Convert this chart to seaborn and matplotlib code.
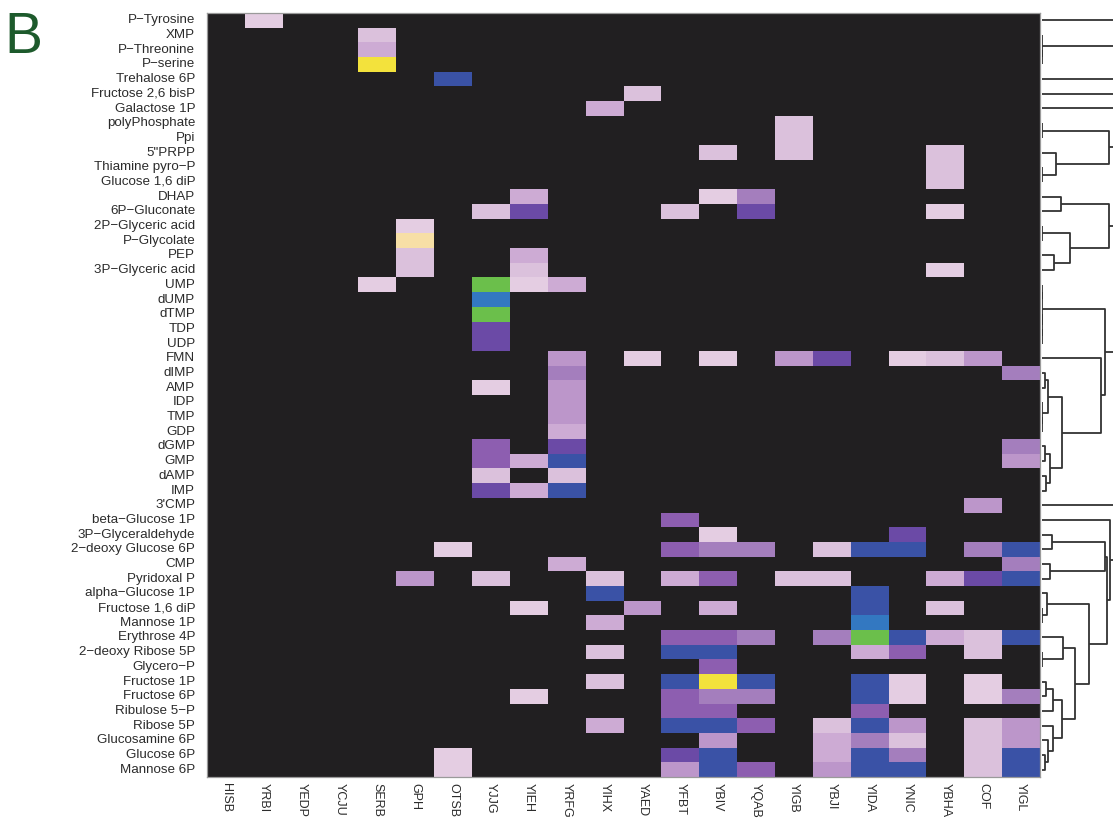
import numpy as np
import pandas as pd
import seaborn as sns
import matplotlib.pyplot as plt
from matplotlib.colors import ListedColormap

plt.rcParams['font.family'] = ['Liberation Sans', 'DejaVu Sans']

metabolites = [
    "P-Tyrosine", "XMP", "P-Threonine", "P-serine", "Trehalose 6P",
    "Fructose 2,6 bisP", "Galactose 1P", "polyPhosphate", "Ppi", '5"PRPP',
    "Thiamine pyro-P", "Glucose 1,6 diP", "DHAP", "6P-Gluconate",
    "2P-Glyceric acid", "P-Glycolate", "PEP", "3P-Glyceric acid", "UMP",
    "dUMP", "dTMP", "TDP", "UDP", "FMN", "dIMP", "AMP", "IDP", "TMP", "GDP",
    "dGMP", "GMP", "dAMP", "IMP", "3'CMP", "beta-Glucose 1P",
    "3P-Glyceraldehyde", "2-deoxy Glucose 6P", "CMP", "Pyridoxal P",
    "alpha-Glucose 1P", "Fructose 1,6 diP", "Mannose 1P", "Erythrose 4P",
    "2-deoxy Ribose 5P", "Glycero-P", "Fructose 1P", "Fructose 6P",
    "Ribulose 5-P", "Ribose 5P", "Glucosamine 6P", "Glucose 6P", "Mannose 6P",
]
metabolites = [m.replace("-", "\u2212") for m in metabolites]

enzymes = ["HISB", "YRBI", "YEDP", "YCJU", "SERB", "GPH", "OTSB", "YJJG",
           "YIEH", "YRFG", "YIHX", "YAED", "YFBT", "YBIV", "YQAB", "YIGB",
           "YBJI", "YIDA", "YNIC", "YBHA", "COF", "YIGL"]

# activity level per metabolite (rows) and enzyme (columns), 0 = none
activity = [
    [0, 1, 0, 0, 0, 0, 0, 0, 0, 0, 0, 0, 0, 0, 0, 0, 0, 0, 0, 0, 0, 0],
    [0, 0, 0, 0, 2, 0, 0, 0, 0, 0, 0, 0, 0, 0, 0, 0, 0, 0, 0, 0, 0, 0],
    [0, 0, 0, 0, 3, 0, 0, 0, 0, 0, 0, 0, 0, 0, 0, 0, 0, 0, 0, 0, 0, 0],
    [0, 0, 0, 0, 12, 0, 0, 0, 0, 0, 0, 0, 0, 0, 0, 0, 0, 0, 0, 0, 0, 0],
    [0, 0, 0, 0, 0, 0, 8, 0, 0, 0, 0, 0, 0, 0, 0, 0, 0, 0, 0, 0, 0, 0],
    [0, 0, 0, 0, 0, 0, 0, 0, 0, 0, 0, 2, 0, 0, 0, 0, 0, 0, 0, 0, 0, 0],
    [0, 0, 0, 0, 0, 0, 0, 0, 0, 0, 3, 0, 0, 0, 0, 0, 0, 0, 0, 0, 0, 0],
    [0, 0, 0, 0, 0, 0, 0, 0, 0, 0, 0, 0, 0, 0, 0, 2, 0, 0, 0, 0, 0, 0],
    [0, 0, 0, 0, 0, 0, 0, 0, 0, 0, 0, 0, 0, 0, 0, 2, 0, 0, 0, 0, 0, 0],
    [0, 0, 0, 0, 0, 0, 0, 0, 0, 0, 0, 0, 0, 2, 0, 2, 0, 0, 0, 2, 0, 0],
    [0, 0, 0, 0, 0, 0, 0, 0, 0, 0, 0, 0, 0, 0, 0, 0, 0, 0, 0, 2, 0, 0],
    [0, 0, 0, 0, 0, 0, 0, 0, 0, 0, 0, 0, 0, 0, 0, 0, 0, 0, 0, 2, 0, 0],
    [0, 0, 0, 0, 0, 0, 0, 0, 3, 0, 0, 0, 0, 1, 5, 0, 0, 0, 0, 0, 0, 0],
    [0, 0, 0, 0, 0, 0, 0, 2, 7, 0, 0, 0, 2, 0, 7, 0, 0, 0, 0, 1, 0, 0],
    [0, 0, 0, 0, 0, 1, 0, 0, 0, 0, 0, 0, 0, 0, 0, 0, 0, 0, 0, 0, 0, 0],
    [0, 0, 0, 0, 0, 11, 0, 0, 0, 0, 0, 0, 0, 0, 0, 0, 0, 0, 0, 0, 0, 0],
    [0, 0, 0, 0, 0, 2, 0, 0, 3, 0, 0, 0, 0, 0, 0, 0, 0, 0, 0, 0, 0, 0],
    [0, 0, 0, 0, 0, 2, 0, 0, 2, 0, 0, 0, 0, 0, 0, 0, 0, 0, 0, 1, 0, 0],
    [0, 0, 0, 0, 1, 0, 0, 10, 1, 3, 0, 0, 0, 0, 0, 0, 0, 0, 0, 0, 0, 0],
    [0, 0, 0, 0, 0, 0, 0, 9, 0, 0, 0, 0, 0, 0, 0, 0, 0, 0, 0, 0, 0, 0],
    [0, 0, 0, 0, 0, 0, 0, 10, 0, 0, 0, 0, 0, 0, 0, 0, 0, 0, 0, 0, 0, 0],
    [0, 0, 0, 0, 0, 0, 0, 7, 0, 0, 0, 0, 0, 0, 0, 0, 0, 0, 0, 0, 0, 0],
    [0, 0, 0, 0, 0, 0, 0, 7, 0, 0, 0, 0, 0, 0, 0, 0, 0, 0, 0, 0, 0, 0],
    [0, 0, 0, 0, 0, 0, 0, 0, 0, 4, 0, 1, 0, 1, 0, 4, 7, 0, 1, 2, 4, 0],
    [0, 0, 0, 0, 0, 0, 0, 0, 0, 5, 0, 0, 0, 0, 0, 0, 0, 0, 0, 0, 0, 5],
    [0, 0, 0, 0, 0, 0, 0, 1, 0, 4, 0, 0, 0, 0, 0, 0, 0, 0, 0, 0, 0, 0],
    [0, 0, 0, 0, 0, 0, 0, 0, 0, 4, 0, 0, 0, 0, 0, 0, 0, 0, 0, 0, 0, 0],
    [0, 0, 0, 0, 0, 0, 0, 0, 0, 4, 0, 0, 0, 0, 0, 0, 0, 0, 0, 0, 0, 0],
    [0, 0, 0, 0, 0, 0, 0, 0, 0, 3, 0, 0, 0, 0, 0, 0, 0, 0, 0, 0, 0, 0],
    [0, 0, 0, 0, 0, 0, 0, 6, 0, 7, 0, 0, 0, 0, 0, 0, 0, 0, 0, 0, 0, 5],
    [0, 0, 0, 0, 0, 0, 0, 6, 3, 8, 0, 0, 0, 0, 0, 0, 0, 0, 0, 0, 0, 4],
    [0, 0, 0, 0, 0, 0, 0, 2, 0, 2, 0, 0, 0, 0, 0, 0, 0, 0, 0, 0, 0, 0],
    [0, 0, 0, 0, 0, 0, 0, 7, 3, 8, 0, 0, 0, 0, 0, 0, 0, 0, 0, 0, 0, 0],
    [0, 0, 0, 0, 0, 0, 0, 0, 0, 0, 0, 0, 0, 0, 0, 0, 0, 0, 0, 0, 4, 0],
    [0, 0, 0, 0, 0, 0, 0, 0, 0, 0, 0, 0, 6, 0, 0, 0, 0, 0, 0, 0, 0, 0],
    [0, 0, 0, 0, 0, 0, 0, 0, 0, 0, 0, 0, 0, 1, 0, 0, 0, 0, 7, 0, 0, 0],
    [0, 0, 0, 0, 0, 0, 1, 0, 0, 0, 0, 0, 6, 5, 5, 0, 2, 8, 8, 0, 5, 8],
    [0, 0, 0, 0, 0, 0, 0, 0, 0, 3, 0, 0, 0, 0, 0, 0, 0, 0, 0, 0, 0, 5],
    [0, 0, 0, 0, 0, 4, 0, 2, 0, 0, 2, 0, 3, 6, 0, 2, 2, 0, 0, 3, 7, 8],
    [0, 0, 0, 0, 0, 0, 0, 0, 0, 0, 8, 0, 0, 0, 0, 0, 0, 8, 0, 0, 0, 0],
    [0, 0, 0, 0, 0, 0, 0, 0, 1, 0, 0, 4, 0, 3, 0, 0, 0, 8, 0, 2, 0, 0],
    [0, 0, 0, 0, 0, 0, 0, 0, 0, 0, 3, 0, 0, 0, 0, 0, 0, 9, 0, 0, 0, 0],
    [0, 0, 0, 0, 0, 0, 0, 0, 0, 0, 0, 0, 6, 6, 5, 0, 5, 10, 8, 3, 2, 8],
    [0, 0, 0, 0, 0, 0, 0, 0, 0, 0, 2, 0, 8, 8, 0, 0, 0, 3, 6, 0, 2, 0],
    [0, 0, 0, 0, 0, 0, 0, 0, 0, 0, 0, 0, 0, 6, 0, 0, 0, 0, 0, 0, 0, 0],
    [0, 0, 0, 0, 0, 0, 0, 0, 0, 0, 2, 0, 8, 12, 8, 0, 0, 8, 1, 0, 1, 0],
    [0, 0, 0, 0, 0, 0, 0, 0, 1, 0, 0, 0, 6, 5, 5, 0, 0, 8, 1, 0, 1, 5],
    [0, 0, 0, 0, 0, 0, 0, 0, 0, 0, 0, 0, 6, 6, 0, 0, 0, 6, 0, 0, 0, 0],
    [0, 0, 0, 0, 0, 0, 0, 0, 0, 0, 3, 0, 8, 8, 6, 0, 2, 8, 4, 0, 2, 4],
    [0, 0, 0, 0, 0, 0, 0, 0, 0, 0, 0, 0, 0, 4, 0, 0, 3, 5, 2, 0, 2, 4],
    [0, 0, 0, 0, 0, 0, 1, 0, 0, 0, 0, 0, 7, 8, 0, 0, 3, 8, 5, 0, 2, 8],
    [0, 0, 0, 0, 0, 0, 1, 0, 0, 0, 0, 0, 4, 8, 6, 0, 4, 8, 8, 0, 2, 8],
]

level_colors = ["#e4cde2", "#dbc1dc", "#cdabd4", "#bc96ca", "#a47ebd",
                "#8d5eb0", "#6b4aa6", "#3a52a6", "#3378c1", "#6bbf4b",
                "#f7dfa6", "#f3e23c"]

# row dendrogram: [left, right, height]; leaves are row indices
tree = [
    [[0, [1, [2, 3, 0], 0], 100],
     [[4, [5, 6, 100], 105],
      [[[7, 8, 0], [9, [10, 11, 0], 14], 67],
       [[12, 13, 19], [[14, 15, 0], [16, 17, 12], 28], 67], 95], 110], 120],
    [[[[18, 19, 0], [20, [21, 22, 0], 0], 0],
      [23, [[[24, 25, 3], [26, [27, 28, 0], 0], 6],
            [[29, 30, 3], [31, 32, 4], 8], 20], 59], 63],
     [33,
      [34, [[[35, 36, 10], [37, 38, 8], 63],
            [[39, [40, 41, 0], 5],
             [[42, [43, 44, 0], 21],
              [[[45, 46, 4], 47, 11], [48, [49, [50, 51, 3], 6], 11], 20], 33],
             47], 65], 68], 100], 105],
    130,
]

W, H = 1113, 821
fig = plt.figure(figsize=(W / 100, H / 100), dpi=100)

df = pd.DataFrame(activity, index=metabolites, columns=enzymes)
ax = fig.add_axes([207 / W, 1 - 777 / H, (1040 - 207) / W, (777 - 13) / H])
ax.set_facecolor("#211f21")
sns.heatmap(df, mask=(df == 0), cmap=ListedColormap(level_colors),
            vmin=0.5, vmax=12.5, cbar=False, linewidths=0,
            xticklabels=enzymes, yticklabels=metabolites, ax=ax)
for s in ax.spines.values():
    s.set_visible(True)
    s.set_color("#9a9a9a")
    s.set_linewidth(0.9)
ax.tick_params(axis="both", length=0, labelcolor="#2b2b2b")
ax.tick_params(axis="y", pad=8.5, labelsize=9.6)
ax.tick_params(axis="x", pad=4, labelsize=9)
plt.setp(ax.get_yticklabels(), rotation=0)
plt.setp(ax.get_xticklabels(), rotation=-90, ha="center", va="top")
ax.set_xlabel("")
ax.set_ylabel("")

# dendrogram on the right
dax = fig.add_axes([1042 / W, 1 - 777 / H, (W - 1042) / W, (777 - 13) / H])
dax.set_xlim(0, 71)
dax.set_ylim(len(metabolites), 0)
dax.axis("off")


def draw(node):
    if isinstance(node, int):
        return 0.0, node + 0.5
    xl, yl = draw(node[0])
    xr, yr = draw(node[1])
    h = node[2]
    dax.plot([xl, h, h, xr], [yl, yl, yr, yr], color="#333333", lw=1.3,
             solid_capstyle="butt")
    return h, (yl + yr) / 2


draw(tree)

fig.text(4 / W, 1 - 53 / H, "B", fontsize=41, color="#1d5a2c",
         va="baseline", ha="left")

fig.savefig("out.png", dpi=100)
